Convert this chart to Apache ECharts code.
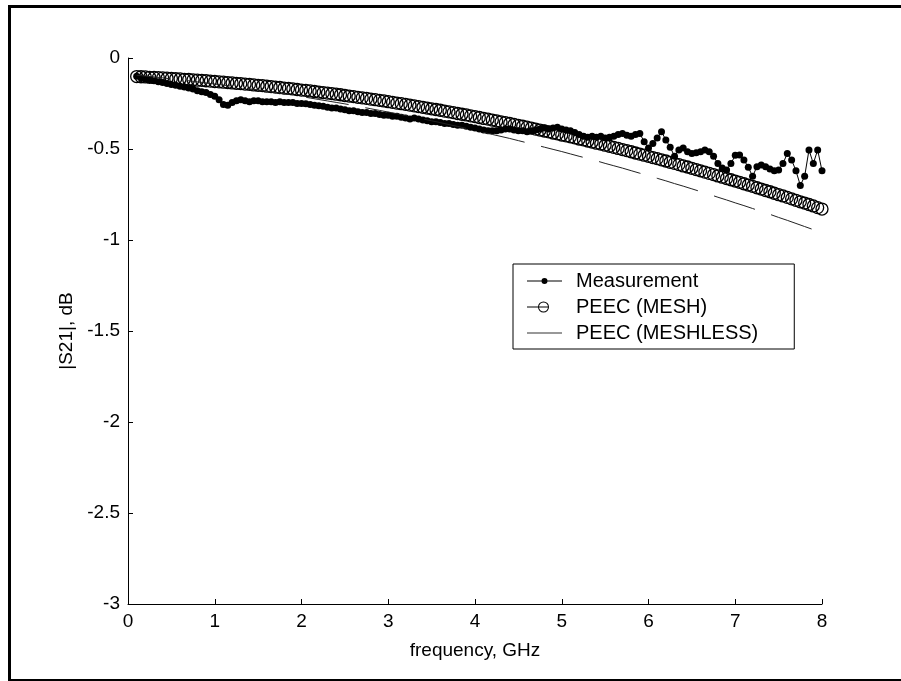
<!DOCTYPE html>
<html><head><meta charset="utf-8">
<script src="https://cdn.jsdelivr.net/npm/echarts@6/dist/echarts.min.js"></script>
<style>html,body{margin:0;padding:0;background:#fff}#c{width:901px;height:681px}</style>
</head><body><div id="c"></div>
<script>
const FONT = 'Arial, "Liberation Sans", sans-serif';
const xTicks = [0, 1, 2, 3, 4, 5, 6, 7, 8];
const yTicks = [0, -0.5, -1, -1.5, -2, -2.5, -3];
const seriesNames = ['Measurement', 'PEEC (MESH)', 'PEEC (MESHLESS)'];
const xName = 'frequency, GHz';
const yName = '|S21|, dB';

// Measurement and PEEC (MESH) are sampled from 0.1 GHz every 0.05 GHz
const sampleStart = 0.1, sampleStep = 0.05;
// PEEC (MESHLESS) sampled from 0.1 GHz every 0.1 GHz
const meshlessStart = 0.1, meshlessStep = 0.1;

const measurement = [
-0.100,-0.110,-0.115,-0.120,-0.125,-0.130,-0.135,-0.140,-0.145,-0.150,
-0.155,-0.160,-0.165,-0.170,-0.180,-0.185,-0.190,-0.200,-0.210,-0.230,
-0.255,-0.260,-0.245,-0.235,-0.230,-0.235,-0.240,-0.235,-0.235,-0.240,
-0.240,-0.240,-0.245,-0.240,-0.245,-0.245,-0.245,-0.250,-0.250,-0.252,
-0.255,-0.260,-0.262,-0.265,-0.270,-0.275,-0.275,-0.280,-0.285,-0.290,
-0.290,-0.295,-0.300,-0.300,-0.305,-0.305,-0.310,-0.315,-0.315,-0.320,
-0.320,-0.325,-0.330,-0.335,-0.330,-0.335,-0.340,-0.345,-0.350,-0.350,
-0.355,-0.360,-0.360,-0.365,-0.370,-0.370,-0.375,-0.380,-0.385,-0.390,
-0.395,-0.400,-0.400,-0.400,-0.395,-0.390,-0.390,-0.395,-0.400,-0.400,
-0.405,-0.400,-0.395,-0.390,-0.385,-0.390,-0.385,-0.380,-0.390,-0.395,
-0.400,-0.410,-0.420,-0.430,-0.435,-0.430,-0.435,-0.430,-0.440,-0.435,
-0.430,-0.420,-0.415,-0.425,-0.430,-0.420,-0.415,-0.460,-0.495,-0.470,
-0.440,-0.405,-0.450,-0.490,-0.540,-0.505,-0.495,-0.515,-0.525,-0.520,
-0.515,-0.505,-0.515,-0.540,-0.580,-0.605,-0.615,-0.580,-0.535,-0.533,
-0.560,-0.600,-0.650,-0.597,-0.588,-0.597,-0.610,-0.620,-0.615,-0.580,
-0.525,-0.560,-0.620,-0.700,-0.650,-0.505,-0.580,-0.505,-0.620
];

const peecMesh = [
-0.102,-0.103,-0.104,-0.106,-0.107,-0.108,-0.109,-0.111,-0.112,-0.114,
-0.115,-0.117,-0.118,-0.120,-0.122,-0.123,-0.125,-0.127,-0.129,-0.131,
-0.133,-0.135,-0.137,-0.139,-0.141,-0.143,-0.145,-0.148,-0.150,-0.152,
-0.155,-0.157,-0.160,-0.162,-0.165,-0.167,-0.170,-0.173,-0.176,-0.178,
-0.181,-0.184,-0.187,-0.190,-0.193,-0.196,-0.199,-0.202,-0.206,-0.209,
-0.212,-0.216,-0.219,-0.222,-0.226,-0.229,-0.233,-0.236,-0.240,-0.244,
-0.248,-0.251,-0.255,-0.259,-0.263,-0.267,-0.271,-0.275,-0.279,-0.283,
-0.287,-0.292,-0.296,-0.300,-0.305,-0.309,-0.313,-0.318,-0.322,-0.327,
-0.332,-0.336,-0.341,-0.346,-0.351,-0.355,-0.360,-0.365,-0.370,-0.375,
-0.380,-0.385,-0.391,-0.396,-0.401,-0.406,-0.412,-0.417,-0.423,-0.428,
-0.433,-0.439,-0.445,-0.450,-0.456,-0.462,-0.468,-0.473,-0.479,-0.485,
-0.491,-0.497,-0.503,-0.509,-0.515,-0.522,-0.528,-0.534,-0.540,-0.547,
-0.553,-0.560,-0.566,-0.573,-0.579,-0.586,-0.593,-0.599,-0.606,-0.613,
-0.620,-0.627,-0.634,-0.641,-0.648,-0.655,-0.662,-0.669,-0.676,-0.683,
-0.691,-0.698,-0.705,-0.713,-0.720,-0.728,-0.735,-0.743,-0.751,-0.758,
-0.766,-0.774,-0.782,-0.790,-0.797,-0.805,-0.813,-0.822,-0.830
];

const peecMeshless = [
-0.095,-0.099,-0.104,-0.109,-0.115,-0.120,-0.125,-0.131,-0.137,-0.143,
-0.149,-0.155,-0.162,-0.169,-0.175,-0.182,-0.190,-0.197,-0.204,-0.212,
-0.220,-0.228,-0.236,-0.244,-0.252,-0.261,-0.270,-0.279,-0.288,-0.297,
-0.306,-0.316,-0.325,-0.335,-0.345,-0.355,-0.366,-0.376,-0.387,-0.398,
-0.409,-0.420,-0.431,-0.442,-0.454,-0.466,-0.478,-0.490,-0.502,-0.514,
-0.527,-0.540,-0.552,-0.565,-0.579,-0.592,-0.605,-0.619,-0.633,-0.647,
-0.661,-0.675,-0.690,-0.704,-0.719,-0.734,-0.749,-0.765,-0.780,-0.796,
-0.811,-0.827,-0.843,-0.859,-0.876,-0.892,-0.909,-0.926,-0.943,-0.960
];

function pairs(start, step, vals) {
  return vals.map((v, i) => [+(start + step * i).toFixed(2), v]);
}

const chart = echarts.init(document.getElementById('c'), null, {renderer: 'canvas'});

const axisCommon = {
  axisLine: {show: true, onZero: false, lineStyle: {color: '#000', width: 1}},
  axisTick: {show: true, inside: true, length: 5, lineStyle: {color: '#000', width: 1}},
  splitLine: {show: false},
  nameLocation: 'middle',
  nameTextStyle: {fontSize: 19, fontFamily: FONT, color: '#000'}
};

const iconMeas = 'path://M0,0M35,20M0,9.5L35,9.5L35,10.5L0,10.5ZM20.5,10A3,3,0,1,1,14.5,10A3,3,0,1,1,20.5,10Z';
const iconMesh = 'path://M0,0M35,20M0,9.5L21,9.5L21,10.5L0,10.5ZM22,10A5.5,5.5,0,1,1,11,10A5.5,5.5,0,1,1,22,10ZM21,10A4.5,4.5,0,1,0,12,10A4.5,4.5,0,1,0,21,10Z';
const iconLess = 'path://M0,0M35,20M0,9.5L35,9.5L35,10.5L0,10.5Z';

chart.setOption({
  animation: false,
  backgroundColor: '#fff',
  grid: {left: 128, top: 58, right: 79, bottom: 77},
  xAxis: Object.assign({}, axisCommon, {
    type: 'value', min: xTicks[0], max: xTicks[xTicks.length - 1], interval: 1,
    name: xName, nameGap: 37,
    axisLabel: {fontSize: 19, fontFamily: FONT, color: '#000', margin: 8}
  }),
  yAxis: Object.assign({}, axisCommon, {
    type: 'value', min: yTicks[yTicks.length - 1], max: yTicks[0], interval: 0.5,
    name: yName, nameGap: 42, nameRotate: 90,
    axisLabel: {fontSize: 19, fontFamily: FONT, color: '#000', margin: 8}
  }),
  legend: {
    orient: 'vertical', left: 513, top: 264,
    padding: [7, 36, 6, 14],
    itemWidth: 35, itemHeight: 20, itemGap: 6,
    borderColor: '#000', borderWidth: 1, borderRadius: 0, backgroundColor: '#fff',
    textStyle: {fontSize: 20, fontFamily: FONT, color: '#000', padding: [0, 0, 0, 9]},
    data: [
      {name: seriesNames[0], icon: iconMeas, itemStyle: {color: '#000', borderWidth: 0}},
      {name: seriesNames[1], icon: iconMesh, itemStyle: {color: '#000', borderWidth: 0}},
      {name: seriesNames[2], icon: iconLess, itemStyle: {color: '#333', borderWidth: 0}}
    ]
  },
  graphic: [
    {type: 'rect', shape: {x: 8, y: 5, width: 893, height: 3}, style: {fill: '#000'}, silent: true},
    {type: 'rect', shape: {x: 8, y: 5, width: 3, height: 676}, style: {fill: '#000'}, silent: true},
    {type: 'rect', shape: {x: 8, y: 679, width: 893, height: 2}, style: {fill: '#000'}, silent: true}
  ],
  series: [
    {
      name: seriesNames[0], type: 'line', z: 2,
      data: pairs(sampleStart, sampleStep, measurement),
      symbol: 'circle', symbolSize: 7, showSymbol: true, showAllSymbol: true,
      lineStyle: {color: '#000', width: 1},
      itemStyle: {color: '#000'}
    },
    {
      name: seriesNames[1], type: 'scatter', z: 3,
      data: pairs(sampleStart, sampleStep, peecMesh),
      symbol: 'circle', symbolSize: 12,
      itemStyle: {color: 'rgba(0,0,0,0)', borderColor: '#000', borderWidth: 1.3, opacity: 1}
    },
    {
      name: seriesNames[2], type: 'line', z: 4,
      data: pairs(meshlessStart, meshlessStep, peecMeshless),
      symbol: 'none', showSymbol: false,
      lineStyle: {color: '#222', width: 1, type: [43, 17], dashOffset: 9},
      itemStyle: {color: '#222'}
    }
  ]
});
</script>
</body></html>
